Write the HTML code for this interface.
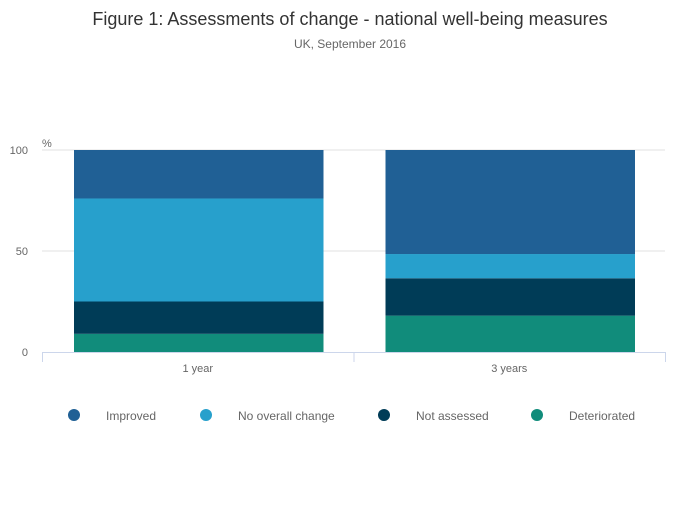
<!DOCTYPE html>
<html><head><meta charset="utf-8"><style>
body{margin:0;background:#fff;font-family:"Liberation Sans",sans-serif;}
svg text{font-family:"Liberation Sans",sans-serif;}
</style></head><body>
<svg width="700" height="502" id="c">
<text x="350" y="25" text-anchor="middle" font-size="18" fill="#333">Figure 1: Assessments of change - national well-being measures</text>
<text x="350" y="48" text-anchor="middle" font-size="12" fill="#666">UK, September 2016</text>
<text x="42" y="147" font-size="11" fill="#666">%</text>
</svg>
<script>
const categories=["1 year","3 years"];
const seriesNames=["Deteriorated","Not assessed","No overall change","Improved"];
const deteriorated=[9,18];
const notAssessed=[16,18.5];
const noChange=[51,12];
const improved=[24,51.5];
const yTicks=[0,50,100];
const colors=["#118c7b","#003c57","#27a0cc","#206095"];
const svg=document.getElementById('c');const NS="http://www.w3.org/2000/svg";
function mk(t,a){const e=document.createElementNS(NS,t);for(const k in a)e.setAttribute(k,a[k]);svg.appendChild(e);return e;}
const x0=42,x1=665,y0=352,y100=150;
const y=v=>y0-(y0-y100)*v/100;
const band=(x1-x0)/categories.length;
const bx=i=>x0+i*band+32, bw=band-62;
yTicks.forEach(t=>{
 if(t>0){const l=mk('line',{x1:x0,x2:x1,y1:y(t),y2:y(t),stroke:'#e0e0e0'});
 
 }
 const tx=mk('text',{x:28,y:y(t)+4,'text-anchor':'end','font-size':11,fill:'#666'});tx.textContent=t;
 
 
});
const series=[deteriorated,notAssessed,noChange,improved];
categories.forEach((c,i)=>{
 let cum=0;
 series.forEach((s,j)=>{
  const r=mk('rect',{x:bx(i),width:bw,y:y(cum+s[i]),height:y(cum)-y(cum+s[i]),fill:colors[j]});
  
  
  cum+=s[i];
 });
 const tx=mk('text',{x:x0+band*(i+0.5),y:372,'text-anchor':'middle','font-size':11,fill:'#666'});tx.textContent=c;
 
 
});
const ax=mk('line',{x1:x0,x2:x1,y1:y0+0.5,y2:y0+0.5,stroke:'#ccd6eb'});


for(let i=0;i<=categories.length;i++){const tk=mk('line',{x1:x0+i*band+0.5,x2:x0+i*band+0.5,y1:y0,y2:y0+10,stroke:'#ccd6eb'});
 
 }
const legOrder=[3,2,1,0];const cx=[74,206,384,537];
legOrder.forEach((j,k)=>{
 const g=mk('g',{});
 
 
 const ci=document.createElementNS(NS,'circle');ci.setAttribute('cx',cx[k]);ci.setAttribute('cy',415);ci.setAttribute('r',6);ci.setAttribute('fill',colors[j]);g.appendChild(ci);
 const t=document.createElementNS(NS,'text');t.setAttribute('x',cx[k]+32);t.setAttribute('y',420);t.setAttribute('font-size',12);t.setAttribute('fill','#666');t.textContent=seriesNames[j];g.appendChild(t);
});
</script>
</body></html>
